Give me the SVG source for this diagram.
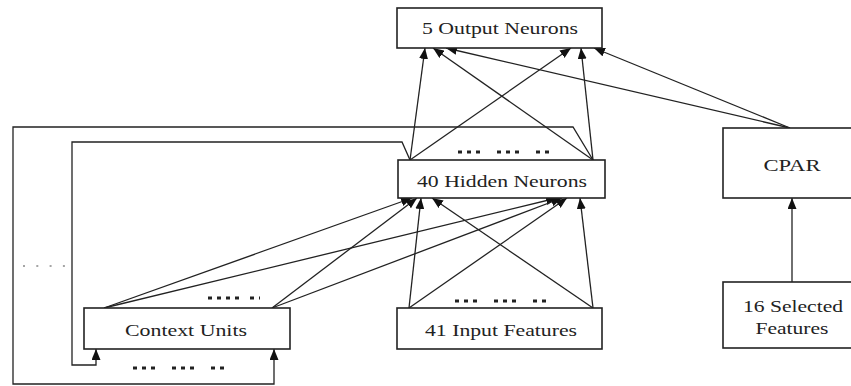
<svg xmlns="http://www.w3.org/2000/svg" width="851" height="386" viewBox="0 0 851 386">
<defs>
<marker id="ah" markerUnits="userSpaceOnUse" markerWidth="11" markerHeight="9" refX="11" refY="4.5" orient="auto">
<path d="M0,0 L11,4.5 L0,9 z" fill="#111"/>
</marker>
<style>
.box{fill:#fff;stroke:#222;stroke-width:1.6}
.lbl{font-family:"Liberation Serif","DejaVu Serif",serif;font-size:17px;fill:#222;text-anchor:middle}
.c{fill:none;stroke:#222;stroke-width:1.3}
.a{marker-end:url(#ah)}
.dots{stroke:#222;stroke-width:3;stroke-dasharray:4 5}
</style>
</defs>
<rect width="851" height="386" fill="#fff"/>
<g id="connectors">
<line class="c a" x1="410" y1="160" x2="425" y2="48"/>
<line class="c a" x1="593" y1="160" x2="433" y2="48"/>
<line class="c a" x1="410" y1="160" x2="571" y2="48"/>
<line class="c a" x1="593" y1="160" x2="581" y2="48"/>
<line class="c a" x1="790" y1="128" x2="446" y2="48"/>
<line class="c a" x1="790" y1="128" x2="594" y2="48"/>
<line class="c a" x1="792" y1="282" x2="792" y2="198"/>
<line class="c a" x1="104" y1="308" x2="412" y2="198"/>
<line class="c a" x1="104" y1="308" x2="557" y2="198"/>
<line class="c a" x1="272" y1="308" x2="417" y2="198"/>
<line class="c a" x1="272" y1="308" x2="562" y2="198"/>
<line class="c a" x1="409" y1="308" x2="421" y2="198"/>
<line class="c a" x1="409" y1="308" x2="567" y2="198"/>
<line class="c a" x1="593" y1="308" x2="432" y2="198"/>
<line class="c a" x1="593" y1="308" x2="580" y2="198"/>
<polyline class="c a" points="593,160 573,127 13,127 13,384 274,384 274,349"/>
<polyline class="c a" points="410,160 402,142 72,142 72,365 96,365 96,349"/>
</g>
<g id="output">
<rect class="box" x="397" y="8" width="205" height="40"/>
<text class="lbl" x="500" y="34" textLength="156" lengthAdjust="spacingAndGlyphs">5 Output Neurons</text>
</g>
<g id="hidden">
<rect class="box" x="398" y="160" width="207" height="38"/>
<text class="lbl" x="502" y="187" textLength="170" lengthAdjust="spacingAndGlyphs">40 Hidden Neurons</text>
<line class="dots" x1="458" y1="152" x2="484" y2="152"/>
<line class="dots" x1="497" y1="152" x2="523" y2="152"/>
<line class="dots" x1="536" y1="152" x2="550" y2="152"/>
</g>
<g id="context">
<rect class="box" x="84" y="308" width="206" height="41"/>
<text class="lbl" x="186" y="336" textLength="122" lengthAdjust="spacingAndGlyphs">Context Units</text>
<line class="dots" x1="208" y1="298" x2="243" y2="298"/>
<line class="dots" x1="250" y1="298" x2="260" y2="298" stroke-dasharray="4 2"/>
<line class="dots" x1="133" y1="368" x2="159" y2="368"/>
<line class="dots" x1="172" y1="368" x2="198" y2="368"/>
<line class="dots" x1="211" y1="368" x2="224" y2="368"/>
</g>
<g id="input">
<rect class="box" x="397" y="308" width="205" height="41"/>
<text class="lbl" x="501" y="336" textLength="152" lengthAdjust="spacingAndGlyphs">41 Input Features</text>
<line class="dots" x1="455" y1="301" x2="481" y2="301"/>
<line class="dots" x1="494" y1="301" x2="520" y2="301"/>
<line class="dots" x1="533" y1="301" x2="546" y2="301"/>
</g>
<g id="cpar">
<rect class="box" x="723" y="128" width="140" height="70"/>
<text class="lbl" x="792" y="171" textLength="57" lengthAdjust="spacingAndGlyphs">CPAR</text>
</g>
<g id="selected">
<rect class="box" x="723" y="282" width="140" height="66"/>
<text class="lbl" x="793" y="312" textLength="100" lengthAdjust="spacingAndGlyphs">16 Selected</text>
<text class="lbl" x="792" y="334" textLength="73" lengthAdjust="spacingAndGlyphs">Features</text>
</g>
<g id="sidedots">
<line x1="23" y1="266" x2="65" y2="266" stroke="#888" stroke-width="1.5" stroke-dasharray="2 11.3"/>
</g>
</svg>
